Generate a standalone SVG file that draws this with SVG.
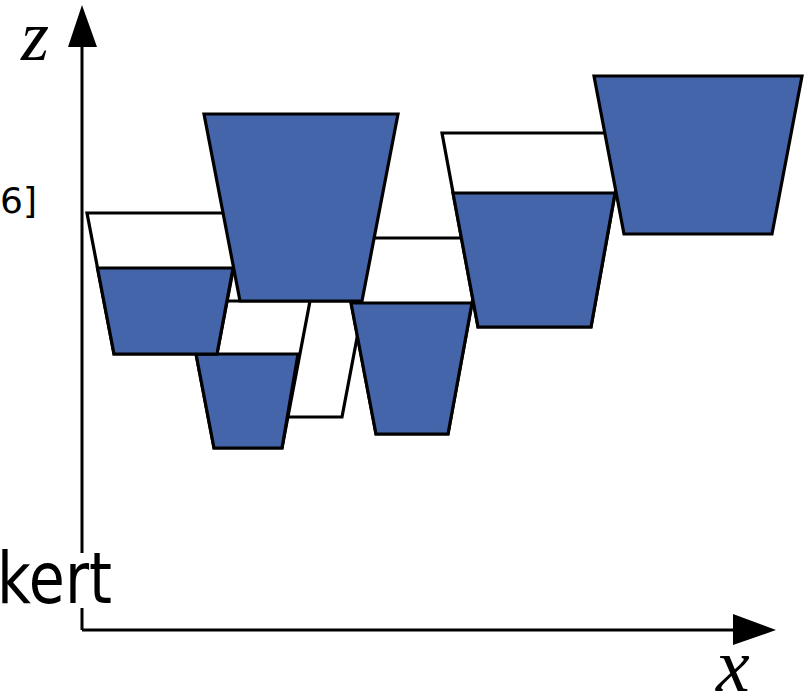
<svg xmlns="http://www.w3.org/2000/svg" width="806" height="697" viewBox="0 0 806 697">
<style>
.cup{stroke:#000;stroke-width:3.2;stroke-linejoin:miter;fill:#fff}
.water{stroke:#000;stroke-width:3.2;fill:#4565aa}
.axis{stroke:#000;stroke-width:3;fill:none}
.lbl{font-family:"DejaVu Sans",sans-serif;fill:#000}
.math{font-family:"Liberation Serif","Times New Roman",serif;font-style:italic;fill:#000}
</style>
<g id="axes">
<line class="axis" x1="82" y1="630" x2="82" y2="40"/>
<line class="axis" x1="82" y1="630" x2="740" y2="630"/>
<polygon points="82,5 68,47 97,47" fill="#000"/>
<polygon points="776,630 733,614 733,645" fill="#000"/>
</g>
<g id="label-kert">
<rect x="0" y="553" width="115" height="55" fill="#fff"/>
<text class="lbl" x="-3" y="603" font-size="71" textLength="115" lengthAdjust="spacingAndGlyphs">kert</text>
</g>
<g id="label-6">
<text class="lbl" x="0" y="213" font-size="36">6]</text>
</g>
<g id="label-z"><text class="math" x="21" y="60" font-size="72">z</text></g>
<g id="label-x"><text class="math" x="716" y="691" font-size="76">x</text></g>
<g id="cup-e">
<polygon class="cup" points="248,301 364,301 342,417 270,417"/>
</g>
<g id="cup-c">
<polygon class="cup" points="186,301 310,301 282,448 214,448"/>
<polygon class="water" points="196,354 298,354 282,448 214,448"/>
</g>
<g id="cup-a">
<polygon class="cup" points="87,213 244,213 217,354 114,354"/>
<polygon class="water" points="97.5,268 233,268 217,354 114,354"/>
</g>
<g id="cup-d">
<polygon class="cup" points="339,238 484,238 448,434 376,434"/>
<polygon class="water" points="351,303 472,303 448,434 376,434"/>
</g>
<g id="cup-b">
<polygon class="water" points="204,114 398,114 362,301 240,301"/>
</g>
<g id="cup-f">
<polygon class="cup" points="442,133 626,133 591,327 478,327"/>
<polygon class="water" points="453,193 615,193 591,327 478,327"/>
</g>
<g id="cup-g">
<polygon class="water" points="594,76 802,76 772,234 624,234"/>
</g>
</svg>
